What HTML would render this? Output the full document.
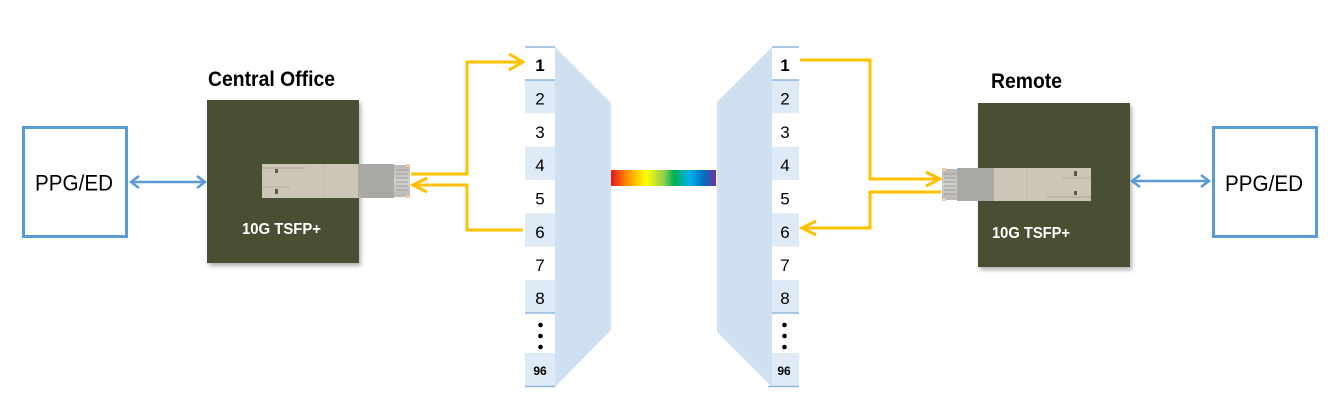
<!DOCTYPE html>
<html><head><meta charset="utf-8"><style>
html,body{margin:0;padding:0;background:#fff;}
svg{display:block;}
</style></head><body>
<svg width="1338" height="418" viewBox="0 0 1338 418" xmlns="http://www.w3.org/2000/svg">
<defs>
<linearGradient id="rb" x1="0" x2="1" y1="0" y2="0">
<stop offset="0" stop-color="#e8141b"/>
<stop offset="0.15" stop-color="#ff8c00"/>
<stop offset="0.33" stop-color="#ffff00"/>
<stop offset="0.5" stop-color="#92d050"/>
<stop offset="0.6" stop-color="#00b050"/>
<stop offset="0.75" stop-color="#00b0f0"/>
<stop offset="0.88" stop-color="#0070c0"/>
<stop offset="1" stop-color="#7030a0"/>
</linearGradient>
<filter id="sh" x="-10%" y="-10%" width="125%" height="125%">
<feDropShadow dx="2" dy="3" stdDeviation="2" flood-color="#000" flood-opacity="0.3"/>
</filter>
<linearGradient id="conn" x1="0" x2="0" y1="0" y2="1">
<stop offset="0" stop-color="#b9b8b4"/><stop offset="0.5" stop-color="#d2d1cd"/><stop offset="1" stop-color="#b9b8b4"/>
</linearGradient>
</defs>

<!-- Left PPG/ED -->
<rect x="23.5" y="127.5" width="103" height="109" fill="#fff" stroke="#5b9bd5" stroke-width="3"/>
<text x="35" y="190.5" font-family="Liberation Sans, sans-serif" font-size="22" textLength="78" lengthAdjust="spacingAndGlyphs" fill="#000">PPG/ED</text>

<!-- left blue arrow -->
<g stroke="#5b9bd5" stroke-width="2.5" fill="none">
<line x1="131" y1="182" x2="205" y2="182"/>
<polyline points="139,176 131,182 139,188"/>
<polyline points="197,176 205,182 197,188"/>
</g>

<!-- Central office -->
<text x="208" y="86" font-family="Liberation Sans Narrow, Liberation Sans, sans-serif" font-weight="bold" font-size="21" textLength="127" lengthAdjust="spacingAndGlyphs" fill="#000">Central Office</text>
<rect x="207" y="100" width="152" height="163" fill="#4a5031" filter="url(#sh)"/>
<text x="242" y="234" font-family="Liberation Sans Narrow, Liberation Sans, sans-serif" font-weight="bold" font-size="16" textLength="79" lengthAdjust="spacingAndGlyphs" fill="#fff">10G TSFP+</text>

<!-- left module -->
<g>
<rect x="262" y="164" width="96" height="34" fill="#cdc6b7"/>
<line x1="262" y1="168" x2="305" y2="168" stroke="#a8a294" stroke-width="1"/>
<line x1="290" y1="187" x2="262" y2="187" stroke="#b5ae9f" stroke-width="1"/>
<rect x="275" y="169" width="3" height="4" fill="#5e5a40"/>
<rect x="275" y="189" width="3" height="5" fill="#5e5a40"/>
<line x1="324" y1="164" x2="324" y2="198" stroke="#c2bbac" stroke-width="1"/>
<rect x="358" y="164" width="36" height="34" fill="#a9a8a4"/>
<rect x="394" y="165" width="16" height="32" fill="url(#conn)"/>
<g stroke="#9e9d99" stroke-width="1">
<line x1="396" y1="170" x2="408" y2="170"/><line x1="396" y1="174" x2="408" y2="174"/>
<line x1="396" y1="178" x2="408" y2="178"/><line x1="396" y1="182" x2="408" y2="182"/>
<line x1="396" y1="186" x2="408" y2="186"/><line x1="396" y1="190" x2="408" y2="190"/>
</g>
<rect x="406" y="164" width="4" height="3" fill="#f2c9a8"/>
<rect x="406" y="195" width="4" height="3" fill="#f2c9a8"/>
</g>

<!-- left yellow connectors -->
<g stroke="#ffc000" stroke-width="3" fill="none" stroke-linejoin="miter">
<polyline points="411,174 467,174 467,62 522,62"/>
<polyline points="509,54 523,62 509,70"/>
<polyline points="523,230 467,230 467,185 414,185"/>
<polyline points="427,178 413,185 427,192"/>
</g>

<!-- left trapezoid -->
<polygon points="555,47 611,103 611,330 555,387" fill="#cfe0f1"/>
<!-- left column -->
<g>
<rect x="525" y="47" width="30" height="33" fill="#fff"/>
<rect x="525" y="80" width="30" height="33.3" fill="#deeaf6"/>
<rect x="525" y="113.3" width="30" height="33.3" fill="#fff"/>
<rect x="525" y="146.6" width="30" height="33.3" fill="#deeaf6"/>
<rect x="525" y="180" width="30" height="33.3" fill="#fff"/>
<rect x="525" y="213.3" width="30" height="33.3" fill="#deeaf6"/>
<rect x="525" y="246.6" width="30" height="33.3" fill="#fff"/>
<rect x="525" y="280" width="30" height="33" fill="#deeaf6"/>
<rect x="525" y="313" width="30" height="40" fill="#fff"/>
<rect x="525" y="353" width="30" height="33" fill="#deeaf6"/>
<g stroke="#8fb6e0" stroke-width="1.5">
<line x1="525" y1="47" x2="555" y2="47"/>
<line x1="525" y1="80" x2="555" y2="80"/>
<line x1="525" y1="313" x2="555" y2="313"/>
<line x1="525" y1="386.5" x2="555" y2="386.5"/>
</g>
<g font-family="Liberation Sans, sans-serif" font-size="17" fill="#000" text-anchor="middle">
<text x="540" y="71" font-weight="bold">1</text>
<text x="540" y="104.5">2</text>
<text x="540" y="137.8">3</text>
<text x="540" y="171">4</text>
<text x="540" y="204.5">5</text>
<text x="540" y="237.8">6</text>
<text x="540" y="271">7</text>
<text x="540" y="304">8</text>
<text x="540" y="375" font-size="12" font-weight="bold">96</text>
</g>
<circle cx="540.5" cy="325" r="2.3" fill="#000"/>
<circle cx="540.5" cy="336" r="2.3" fill="#000"/>
<circle cx="540.5" cy="347" r="2.3" fill="#000"/>
</g>

<!-- rainbow -->
<rect x="611" y="170" width="105" height="16" fill="url(#rb)"/>

<!-- right trapezoid -->
<polygon points="772,47 717,102 717,332 772,387" fill="#cfe0f1"/>
<!-- right column -->
<g>
<rect x="772" y="47" width="27" height="33" fill="#fff"/>
<rect x="772" y="80" width="27" height="33.3" fill="#deeaf6"/>
<rect x="772" y="113.3" width="27" height="33.3" fill="#fff"/>
<rect x="772" y="146.6" width="27" height="33.3" fill="#deeaf6"/>
<rect x="772" y="180" width="27" height="33.3" fill="#fff"/>
<rect x="772" y="213.3" width="27" height="33.3" fill="#deeaf6"/>
<rect x="772" y="246.6" width="27" height="33.3" fill="#fff"/>
<rect x="772" y="280" width="27" height="33" fill="#deeaf6"/>
<rect x="772" y="313" width="27" height="40" fill="#fff"/>
<rect x="772" y="353" width="27" height="33" fill="#deeaf6"/>
<g stroke="#8fb6e0" stroke-width="1.5">
<line x1="772" y1="47" x2="799" y2="47"/>
<line x1="772" y1="80" x2="799" y2="80"/>
<line x1="772" y1="313" x2="799" y2="313"/>
<line x1="768" y1="386.5" x2="799" y2="386.5"/>
</g>
<g font-family="Liberation Sans, sans-serif" font-size="17" fill="#000" text-anchor="middle">
<text x="785" y="71" font-weight="bold">1</text>
<text x="785" y="104.5">2</text>
<text x="785" y="137.8">3</text>
<text x="785" y="171">4</text>
<text x="785" y="204.5">5</text>
<text x="785" y="237.8">6</text>
<text x="785" y="271">7</text>
<text x="785" y="304">8</text>
<text x="784" y="375" font-size="12" font-weight="bold">96</text>
</g>
<circle cx="784.5" cy="325" r="2.3" fill="#000"/>
<circle cx="784.5" cy="336" r="2.3" fill="#000"/>
<circle cx="784.5" cy="347" r="2.3" fill="#000"/>
</g>

<!-- right yellow connectors -->
<g stroke="#ffc000" stroke-width="3" fill="none" stroke-linejoin="miter">
<polyline points="800,60 870,60 870,179 939,179"/>
<polyline points="926,172 940,179 926,186"/>
<polyline points="941,192 870,192 870,228 804,228"/>
<polyline points="816,221 802,228 816,235"/>
</g>

<!-- Remote -->
<text x="991" y="88" font-family="Liberation Sans Narrow, Liberation Sans, sans-serif" font-weight="bold" font-size="21" textLength="71" lengthAdjust="spacingAndGlyphs" fill="#000">Remote</text>
<rect x="978" y="103" width="152" height="164" fill="#4a5031" filter="url(#sh)"/>
<text x="992" y="238" font-family="Liberation Sans Narrow, Liberation Sans, sans-serif" font-weight="bold" font-size="16" textLength="78" lengthAdjust="spacingAndGlyphs" fill="#fff">10G TSFP+</text>

<!-- right module -->
<g>
<rect x="994" y="168" width="97" height="33" fill="#cdc6b7"/>
<line x1="1047" y1="197" x2="1091" y2="197" stroke="#a8a294" stroke-width="1"/>
<line x1="1062" y1="178" x2="1091" y2="178" stroke="#b5ae9f" stroke-width="1"/>
<rect x="1074" y="171" width="3" height="5" fill="#5e5a40"/>
<rect x="1074" y="191" width="3" height="4" fill="#5e5a40"/>
<line x1="1027" y1="168" x2="1027" y2="201" stroke="#c2bbac" stroke-width="1"/>
<rect x="957" y="168" width="37" height="33" fill="#a9a8a4"/>
<rect x="942" y="169" width="15" height="31" fill="url(#conn)"/>
<g stroke="#9e9d99" stroke-width="1">
<line x1="944" y1="174" x2="956" y2="174"/><line x1="944" y1="178" x2="956" y2="178"/>
<line x1="944" y1="182" x2="956" y2="182"/><line x1="944" y1="186" x2="956" y2="186"/>
<line x1="944" y1="190" x2="956" y2="190"/><line x1="944" y1="194" x2="956" y2="194"/>
</g>
<rect x="942" y="168" width="4" height="3" fill="#f2c9a8"/>
<rect x="942" y="198" width="4" height="3" fill="#f2c9a8"/>
</g>

<!-- right blue arrow -->
<g stroke="#5b9bd5" stroke-width="2.5" fill="none">
<line x1="1132" y1="181" x2="1209" y2="181"/>
<polyline points="1140,175 1132,181 1140,187"/>
<polyline points="1201,175 1209,181 1201,187"/>
</g>

<!-- Right PPG/ED -->
<rect x="1213.5" y="127.5" width="103" height="109" fill="#fff" stroke="#5b9bd5" stroke-width="3"/>
<text x="1225" y="191" font-family="Liberation Sans, sans-serif" font-size="22" textLength="78" lengthAdjust="spacingAndGlyphs" fill="#000">PPG/ED</text>
</svg>
</body></html>
